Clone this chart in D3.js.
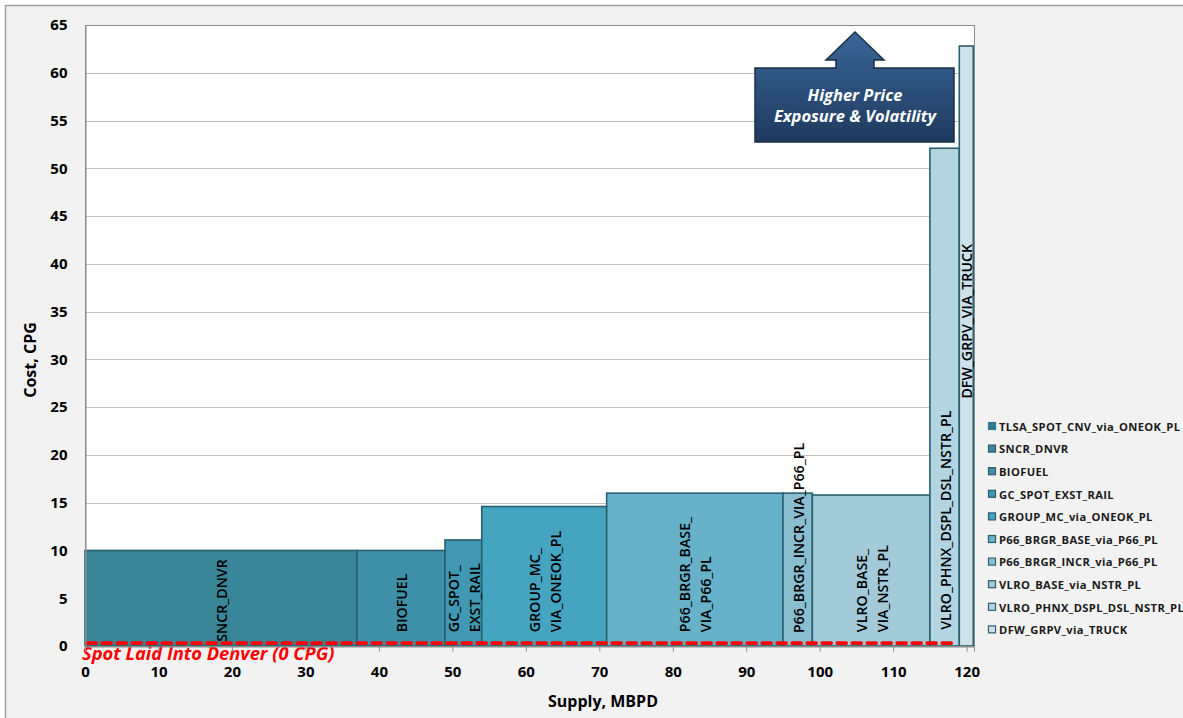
<!DOCTYPE html>
<html>
<head>
<meta charset="utf-8">
<script src="https://cdn.jsdelivr.net/npm/d3@7"></script>
<style>
  html, body { margin: 0; padding: 0; background: #ffffff; }
  svg { display: block; font-family: "Open Sans", "DejaVu Sans", sans-serif; }
</style>
</head>
<body>
<svg id="chart" width="1183" height="718"></svg>
<script>
// Supply sources, in merit order along the supply curve
const sources = [
  "TLSA_SPOT_CNV_via_ONEOK_PL",
  "SNCR_DNVR",
  "BIOFUEL",
  "GC_SPOT_EXST_RAIL",
  "GROUP_MC_via_ONEOK_PL",
  "P66_BRGR_BASE_via_P66_PL",
  "P66_BRGR_INCR_via_P66_PL",
  "VLRO_BASE_via_NSTR_PL",
  "VLRO_PHNX_DSPL_DSL_NSTR_PL",
  "DFW_GRPV_via_TRUCK"
];
// Volume of each source, MBPD (bar width)
const supplyMBPD = [0, 37, 12, 5, 17, 24, 4, 16, 4, 1.9];
// Delivered cost of each source, CPG (bar height)
const costCPG = [10, 10, 10, 11.1, 14.6, 16.0, 16.0, 15.8, 52.1, 62.8];
// Text written inside each bar (one entry per line)
const barLabels = [
  [],
  ["SNCR_DNVR"],
  ["BIOFUEL"],
  ["GC_SPOT_", "EXST_RAIL"],
  ["GROUP_MC_", "VIA_ONEOK_PL"],
  ["P66_BRGR_BASE_", "VIA_P66_PL"],
  ["P66_BRGR_INCR_VIA_P66_PL"],
  ["VLRO_BASE_", "VIA_NSTR_PL"],
  ["VLRO_PHNX_DSPL_DSL_NSTR_PL"],
  ["DFW_GRPV_VIA_TRUCK"]
];
const xTicks = [0, 10, 20, 30, 40, 50, 60, 70, 80, 90, 100, 110, 120];
const yTicks = [0, 5, 10, 15, 20, 25, 30, 35, 40, 45, 50, 55, 60, 65];
const spotPriceCPG = 0.3;

// Styling
const fills = ["#2f7a8c", "#3a8699", "#3e90a8", "#4198b2", "#45a4c0", "#67b1c9",
               "#89bed1", "#a2cad9", "#b2d5e1", "#cde2ea"];
const barStroke = "#2a5f6f";
// Where each label begins, in CPG
const labelStart = [0, 0.45, 1.45, 1.45, 1.45, 1.45, 1.35, 1.45, 1.7, 25.9];

const svg = d3.select("#chart");
const W = 1183, H = 718;
const plot = { left: 85, right: 974, top: 25, bottom: 646 };

// Chart-area background
svg.append("rect").attr("x", 0).attr("y", 0).attr("width", W).attr("height", H).attr("fill", "#ffffff");
svg.append("rect").attr("x", 5.5).attr("y", 5.5).attr("width", W).attr("height", H)
  .attr("fill", "#f2f2f2").attr("stroke", "#a0a0a0").attr("stroke-width", 1.5);

const x = d3.scaleLinear().domain([0, 121]).range([plot.left, plot.right]);
const y = d3.scaleLinear().domain([0, 65]).range([plot.bottom, plot.top]);

// Plot area
svg.append("rect").attr("x", plot.left).attr("y", plot.top)
  .attr("width", plot.right - plot.left).attr("height", plot.bottom - plot.top)
  .attr("fill", "#ffffff");

// Horizontal gridlines
svg.append("g").selectAll("line").data(yTicks.filter(v => v > 0)).join("line")
  .attr("x1", plot.left).attr("x2", plot.right)
  .attr("y1", d => Math.round(y(d)) + 0.5).attr("y2", d => Math.round(y(d)) + 0.5)
  .attr("stroke", "#c0c0c0").attr("stroke-width", 1);

// Supply-curve bars: width = volume, height = cost
const cum = [0];
supplyMBPD.forEach((v, i) => cum.push(cum[i] + v));
const bars = sources.map((s, i) => ({
  name: s, x0: cum[i], x1: cum[i + 1], cost: costCPG[i], fill: fills[i],
  lines: barLabels[i], start: labelStart[i]
}));

svg.append("g").selectAll("rect").data(bars.filter(d => d.x1 > d.x0)).join("rect")
  .attr("x", d => x(d.x0))
  .attr("y", d => y(d.cost))
  .attr("width", d => x(d.x1) - x(d.x0))
  .attr("height", d => y(0) - y(d.cost))
  .attr("fill", d => d.fill)
  .attr("stroke", barStroke)
  .attr("stroke-width", 1.6);

// Plot border
svg.append("rect").attr("x", plot.left + 0.5).attr("y", plot.top + 0.5)
  .attr("width", plot.right - plot.left).attr("height", plot.bottom - plot.top)
  .attr("fill", "none").attr("stroke", "#8c8c8c").attr("stroke-width", 1);

// Spot price reference line
svg.append("line")
  .attr("x1", x(0.3)).attr("x2", x(118.6))
  .attr("y1", y(spotPriceCPG)).attr("y2", y(spotPriceCPG))
  .attr("stroke", "#ff0000").attr("stroke-width", 3.6)
  .attr("stroke-dasharray", "9 6").attr("stroke-linecap", "round");

svg.append("text")
  .attr("x", x(0) - 3).attr("y", 660)
  .attr("fill", "#ff0000").attr("font-size", 18.3).attr("font-weight", 700)
  .attr("font-style", "italic")
  .text("Spot Laid Into Denver (0 CPG)");

// Labels inside the bars, rotated to read upward
const labelG = svg.append("g");
bars.forEach(d => {
  const n = d.lines.length;
  const cx = (x(d.x0) + x(d.x1)) / 2;
  d.lines.forEach((line, j) => {
    const lx = cx + (j - (n - 1) / 2) * 21 + 6;
    labelG.append("text")
      .attr("transform", `translate(${lx},${y(d.start)}) rotate(-90)`)
      .attr("text-anchor", "start")
      .attr("font-size", 14.2)
      .attr("font-weight", 600)
      .attr("fill", "#000000")
      .text(line);
  });
});

// Axes
const xAxis = d3.axisBottom(x).tickValues(xTicks).tickSize(5).tickFormat(d3.format("d"));
const gx = svg.append("g").attr("transform", `translate(0,${plot.bottom + 0.5})`).call(xAxis);
gx.select(".domain").attr("stroke", "#8c8c8c");
gx.selectAll(".tick line").attr("stroke", "#8c8c8c");
gx.selectAll(".tick text").attr("dy", null).attr("y", 30)
  .attr("font-size", 15).attr("font-weight", 700).attr("fill", "#000")
  .attr("font-family", "\"Open Sans\", sans-serif");

const yAxis = d3.axisLeft(y).tickValues(yTicks).tickSize(0).tickPadding(18);
const gy = svg.append("g").attr("transform", `translate(${plot.left + 0.5},0)`).call(yAxis);
gy.select(".domain").attr("stroke", "#8c8c8c");
gy.selectAll(".tick text").attr("font-size", 15).attr("font-weight", 700).attr("fill", "#000")
  .attr("font-family", "\"Open Sans\", sans-serif");

// Axis titles
svg.append("text")
  .attr("x", 603).attr("y", 707).attr("text-anchor", "middle")
  .attr("font-size", 16).attr("font-weight", 700).attr("fill", "#000")
  .text("Supply, MBPD");
svg.append("text")
  .attr("transform", "translate(36,360) rotate(-90)").attr("text-anchor", "middle")
  .attr("font-size", 16).attr("font-weight", 700).attr("fill", "#000")
  .text("Cost, CPG");

// Legend
const legend = svg.append("g").attr("transform", "translate(988,427)");
const rowH = 22.6;
sources.forEach((s, i) => {
  const row = legend.append("g").attr("transform", `translate(0,${i * rowH})`);
  row.append("rect").attr("x", 0.5).attr("y", -4.5).attr("width", 7).attr("height", 7)
    .attr("fill", fills[i]).attr("stroke", i === 0 ? fills[i] : barStroke).attr("stroke-width", 1.2);
  row.append("text").attr("x", 11).attr("y", 3.8)
    .attr("font-size", 11.2).attr("font-weight", 700).attr("fill", "#1a1a1a")
    .attr("letter-spacing", 0.35)
    .text(s);
});

// Call-out arrow pointing to the high-cost end of the curve
const defs = svg.append("defs");
const grad = defs.append("linearGradient").attr("id", "calloutFill")
  .attr("x1", 0).attr("y1", 0).attr("x2", 0).attr("y2", 1);
grad.append("stop").attr("offset", "0%").attr("stop-color", "#3a6699");
grad.append("stop").attr("offset", "100%").attr("stop-color", "#1e3a5e");

const bx0 = 755, bx1 = 954, by0 = 68, by1 = 142;
const tipX = 855, tipY = 32, headY = 60, headHalf = 29, stemHalf = 19;
const path = d3.path();
path.moveTo(bx0, by0);
path.lineTo(tipX - stemHalf, by0);
path.lineTo(tipX - stemHalf, headY);
path.lineTo(tipX - headHalf, headY);
path.lineTo(tipX, tipY);
path.lineTo(tipX + headHalf, headY);
path.lineTo(tipX + stemHalf, headY);
path.lineTo(tipX + stemHalf, by0);
path.lineTo(bx1, by0);
path.lineTo(bx1, by1);
path.lineTo(bx0, by1);
path.closePath();
svg.append("path").attr("d", path.toString())
  .attr("fill", "url(#calloutFill)").attr("stroke", "#1b2e48").attr("stroke-width", 1.5);

svg.append("text").attr("x", 855).attr("y", 101).attr("text-anchor", "middle")
  .attr("font-size", 16.5).attr("font-weight", 700).attr("font-style", "italic").attr("fill", "#ffffff")
  .text("Higher Price");
svg.append("text").attr("x", 855).attr("y", 122).attr("text-anchor", "middle")
  .attr("font-size", 16.5).attr("font-weight", 700).attr("font-style", "italic").attr("fill", "#ffffff")
  .text("Exposure & Volatility");
</script>
</body>
</html>
